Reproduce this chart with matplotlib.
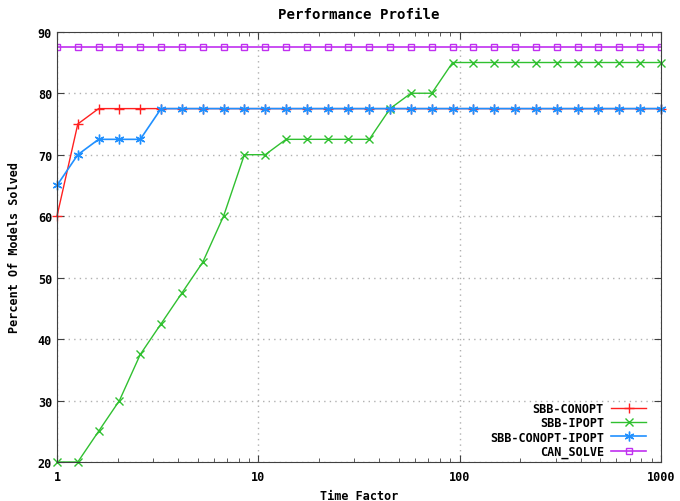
import matplotlib
matplotlib.use("Agg")
import matplotlib.pyplot as plt
from matplotlib.ticker import LogLocator, FixedLocator, NullFormatter

# time factors (log-spaced sample points)
time_factor = [1.0, 1.269, 1.610, 2.043, 2.593, 3.290, 4.175, 5.298, 6.723, 8.532,
               10.83, 13.74, 17.43, 22.12, 28.07, 35.62, 45.20, 57.37, 72.79, 92.37,
               117.2, 148.7, 188.7, 239.5, 303.9, 385.7, 489.4, 621.0, 788.0, 1000.0]

sbb_conopt = [60, 75, 77.5, 77.5, 77.5, 77.5, 77.5, 77.5, 77.5, 77.5,
              77.5, 77.5, 77.5, 77.5, 77.5, 77.5, 77.5, 77.5, 77.5, 77.5,
              77.5, 77.5, 77.5, 77.5, 77.5, 77.5, 77.5, 77.5, 77.5, 77.5]
sbb_ipopt = [20, 20, 25, 30, 37.5, 42.5, 47.5, 52.5, 60, 70,
             70, 72.5, 72.5, 72.5, 72.5, 72.5, 77.5, 80, 80, 85,
             85, 85, 85, 85, 85, 85, 85, 85, 85, 85]
sbb_conopt_ipopt = [65, 70, 72.5, 72.5, 72.5, 77.5, 77.5, 77.5, 77.5, 77.5,
                    77.5, 77.5, 77.5, 77.5, 77.5, 77.5, 77.5, 77.5, 77.5, 77.5,
                    77.5, 77.5, 77.5, 77.5, 77.5, 77.5, 77.5, 77.5, 77.5, 77.5]
can_solve = [87.5] * 30

y_ticks = [20, 30, 40, 50, 60, 70, 80, 90]
x_ticks = [1, 10, 100, 1000]

plt.rcParams["font.family"] = ["DejaVu Sans Mono"]
plt.rcParams["font.weight"] = "bold"
plt.rcParams["font.size"] = 8.5

fig = plt.figure(figsize=(6.8, 5.02), dpi=100)
ax = fig.add_axes([0.0838, 0.0777, 0.888, 0.857])

ax.plot(time_factor, sbb_conopt, color="#ff2020", lw=1, marker="+", ms=7, mew=1,
        label="SBB-CONOPT", clip_on=False)
ax.plot(time_factor, sbb_ipopt, color="#30c030", lw=1, marker="x", ms=5.5, mew=1,
        label="SBB-IPOPT", clip_on=False)
ax.plot(time_factor, sbb_conopt_ipopt, color="#2090ff", lw=1.2, marker=(6, 2, 0), ms=7, mew=1,
        label="SBB-CONOPT-IPOPT", clip_on=False)
ax.plot(time_factor, can_solve, color="#c030f0", lw=1.2, marker="s", ms=5, mew=1,
        mfc="none", label="CAN_SOLVE")

ax.set_xscale("log")
ax.set_xlim(1, 1000)
ax.set_ylim(20, 90)
ax.xaxis.set_major_locator(FixedLocator(x_ticks))
ax.set_xticklabels([str(v) for v in x_ticks])
ax.xaxis.set_minor_locator(LogLocator(base=10, subs=range(2, 10)))
ax.xaxis.set_minor_formatter(NullFormatter())
ax.set_yticks(y_ticks)

ax.tick_params(which="both", direction="in", top=True, right=True, color="#404040")
ax.tick_params(which="major", length=5)
ax.tick_params(which="minor", length=3)
ax.tick_params(axis="x", pad=6)

ax.grid(True, which="major", color="#b0b0b0", linestyle=(0, (1, 3)), lw=1)
for s in ax.spines.values():
    s.set_color("#404040")

ax.set_title("Performance Profile", fontweight="bold", pad=10)
ax.set_xlabel("Time Factor", fontweight="bold", labelpad=4)
ax.set_ylabel("Percent Of Models Solved", fontweight="bold", labelpad=12)

ax.legend(loc="lower right", bbox_to_anchor=(0.987, -0.006), frameon=False,
          markerfirst=False, handlelength=3, labelspacing=0.1,
          borderaxespad=0.15, handletextpad=0.6)

fig.savefig("out.png", dpi=100)
